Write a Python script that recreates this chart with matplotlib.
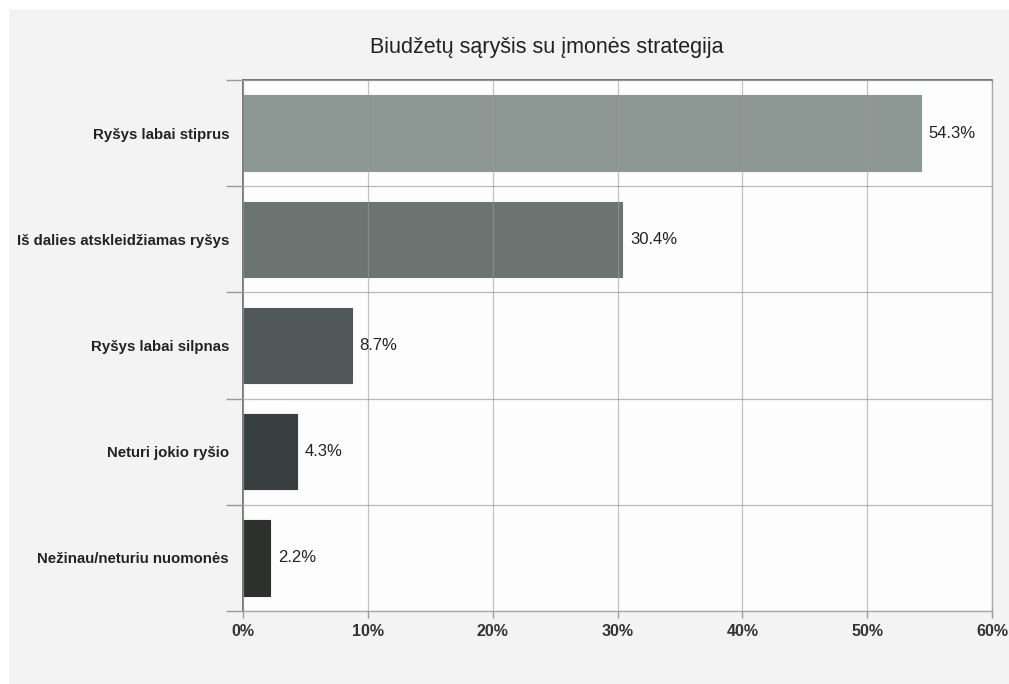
import numpy as np
import matplotlib.pyplot as plt
from matplotlib.patches import Rectangle

plt.rcParams['font.family'] = ['Liberation Sans', 'DejaVu Sans']

categories = ["Ryšys labai stiprus", "Iš dalies atskleidžiamas ryšys",
              "Ryšys labai silpnas", "Neturi jokio ryšio", "Nežinau/neturiu nuomonės"]
values = [54.3, 30.4, 8.7, 4.3, 2.2]
bar_colors = ["#8d9794", "#6b7471", "#50585a", "#393e41", "#2e302d"]
xticks = [0, 10, 20, 30, 40, 50, 60]
title = "Biudžetų sąryšis su įmonės strategija"

W, H = 1009, 684
fig = plt.figure(figsize=(W / 100, H / 100), dpi=100, facecolor="#f3f3f3")

# white strips at top and left of the grey backdrop
fig.patches.append(Rectangle((0, 1 - 8 / H), 1, 8 / H, color="white",
                             transform=fig.transFigure, figure=fig))
fig.patches.append(Rectangle((0, 0), 8 / W, 1, color="white",
                             transform=fig.transFigure, figure=fig))

ax = fig.add_axes([243 / W, 1 - 611 / H, (992 - 243) / W, (611 - 80) / H])
ax.set_facecolor("#fdfdfd")

y = np.arange(len(categories))
ax.barh(y, values, height=0.71, color=bar_colors, edgecolor=bar_colors,
        linewidth=0.8, zorder=2)
for yi, v in zip(y, values):
    ax.text(v + 0.6, yi, f"{v}%", va="center", ha="left", fontsize=12,
            color="#222222", zorder=4)

ax.set_xlim(0, 60)
ax.set_ylim(len(categories) - 0.5, -0.5)
ax.set_xticks(xticks)
ax.set_xticklabels([f"{t}%" for t in xticks], fontsize=11.5,
                   fontweight="bold", color="#333333")
ax.set_yticks(y)
ax.set_yticklabels(categories, fontsize=10.8, fontweight="bold", color="#222222")
ax.set_yticks(np.arange(-0.5, len(categories), 1), minor=True)

ax.tick_params(axis="y", which="major", length=0, pad=10)
ax.tick_params(axis="y", which="minor", length=12, width=1, color="#9a9a9a",
               direction="out")
ax.tick_params(axis="x", which="major", length=5, width=1, color="#9a9a9a",
               pad=4)

ax.grid(axis="x", which="major", color="#9c9c9c", linewidth=0.9, alpha=0.6,
        zorder=3)
ax.grid(axis="y", which="minor", color="#9c9c9c", linewidth=0.9, alpha=0.7,
        zorder=3)
ax.set_axisbelow(False)

for side in ["top", "left"]:
    ax.spines[side].set_color("#555555")
    ax.spines[side].set_linewidth(1.1)
for side in ["right", "bottom"]:
    ax.spines[side].set_color("#a8a8a8")
    ax.spines[side].set_linewidth(1.0)

fig.text(547 / W, 1 - 47 / H, title, ha="center", va="center", fontsize=15.5,
         color="#222222")

fig.savefig("out.png", dpi=100, facecolor=fig.get_facecolor())
